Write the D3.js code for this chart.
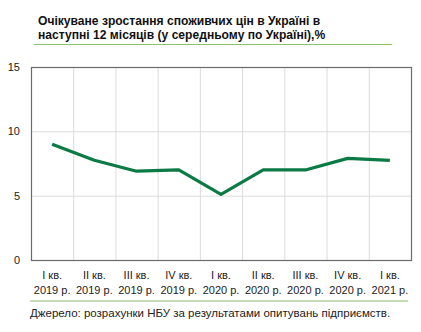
<!DOCTYPE html>
<html><head><meta charset="utf-8">
<script src="https://cdn.jsdelivr.net/npm/d3@7"></script>
<style>body{margin:0;background:#fff}svg{display:block;font-family:"Liberation Sans",Arial,sans-serif}</style>
</head><body>
<script>
const quarters = ["I кв.","II кв.","III кв.","IV кв.","I кв.","II кв.","III кв.","IV кв.","I кв."];
const years = ["2019 р.","2019 р.","2019 р.","2019 р.","2020 р.","2020 р.","2020 р.","2020 р.","2021 р."];
const values = [9.0, 7.75, 6.9, 7.0, 5.1, 7.0, 7.0, 7.9, 7.75];
const yTicks = [0, 5, 10, 15];
const titleLines = ["Очікуване зростання споживчих цін в Україні в","наступні 12 місяців (у середньому по Україні),%"];
const source = "Джерело: розрахунки НБУ за результатами опитувань підприємств.";

const W = 421, H = 332;
const svg = d3.select("body").append("svg").attr("width", W).attr("height", H);
const m = {l:31, r:411, t:67, b:260};
const idx = d3.range(values.length);
const x = d3.scaleBand().domain(idx).range([m.l, m.r]);
const y = d3.scaleLinear().domain([0, 15]).range([m.b, m.t]);

svg.selectAll("text.title").data(titleLines).join("text")
  .attr("x", 38).attr("y", (d,i)=>25+i*13.5)
  .attr("font-size", 12.1).attr("font-weight", "bold").attr("fill", "#111").text(d=>d);
svg.append("line").attr("x1",34).attr("x2",392).attr("y1",44.5).attr("y2",44.5).attr("stroke","#8cc06b").attr("stroke-width",1.2);

// grid
svg.append("g").selectAll("line").data(yTicks.slice(1,-1)).join("line")
  .attr("x1", m.l).attr("x2", m.r).attr("y1", d=>y(d)+0.5).attr("y2", d=>y(d)+0.5)
  .attr("stroke", "#dcdcdc");
svg.append("g").selectAll("line").data(idx.slice(1)).join("line")
  .attr("x1", d=>x(d)+0.5).attr("x2", d=>x(d)+0.5).attr("y1", m.t).attr("y2", m.b)
  .attr("stroke", "#dcdcdc");
svg.append("rect").attr("x", m.l+0.5).attr("y", m.t+0.5).attr("width", m.r-m.l).attr("height", m.b-m.t)
  .attr("fill","none").attr("stroke","#6b6b6b").attr("stroke-width",1.2);

// y axis labels
svg.append("g").selectAll("text").data(yTicks).join("text")
  .attr("x", 20).attr("y", d=>y(d)+4).attr("text-anchor","end")
  .attr("font-size", 11).attr("fill","#222").text(d=>d);

// x labels
const xl = svg.append("g").selectAll("g").data(idx).join("g")
  .attr("transform", d=>`translate(${x(d)+x.bandwidth()/2},0)`);
xl.append("text").attr("y", 279).attr("text-anchor","middle").attr("font-size",11).attr("fill","#222").text(d=>quarters[d]);
xl.append("text").attr("y", 294).attr("text-anchor","middle").attr("font-size",11).attr("fill","#222").text(d=>years[d]);

svg.append("line").attr("x1",30).attr("x2",408).attr("y1",301).attr("y2",301).attr("stroke","#8cc06b").attr("stroke-width",1.2);
svg.append("text").attr("x",30).attr("y",317).attr("font-size",11.5).attr("fill","#222").text(source);

// line
const line = d3.line().x((d,i)=>x(i)+x.bandwidth()/2).y(d=>y(d));
svg.append("path").datum(values).attr("d", line).attr("fill","none")
  .attr("stroke","#0b7a45").attr("stroke-width",3.2).attr("stroke-linejoin","round");
</script>
</body></html>
